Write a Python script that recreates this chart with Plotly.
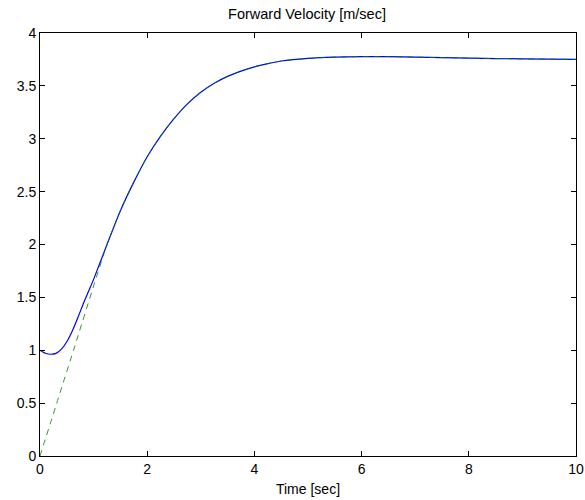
import plotly.graph_objects as go

# Blue (solid) curve: actual forward velocity
t_blue = [0, 0.1, 0.2, 0.3, 0.4, 0.5, 0.6, 0.7, 0.8, 0.9, 1.0, 1.25, 1.5, 1.75, 2.0,
          2.25, 2.5, 2.75, 3.0, 3.25, 3.5, 3.75, 4.0, 4.25, 4.5, 5.0, 5.5, 6.0,
          6.5, 7.0, 8.0, 9.0, 10.0]
v_blue = [1.00, 0.972, 0.962, 0.970, 1.01, 1.08, 1.18, 1.30, 1.43, 1.55, 1.67, 2.00,
          2.32, 2.59, 2.83, 3.025, 3.19, 3.33, 3.44, 3.525, 3.59, 3.64, 3.68, 3.71,
          3.735, 3.76, 3.772, 3.777, 3.776, 3.772, 3.762, 3.755, 3.75]

# Green (dashed) curve: reference velocity
t_green = [0, 0.625, 1.25, 1.5, 1.75, 2.0, 2.25, 2.5, 2.75, 3.0, 3.25, 3.5, 3.75,
           4.0, 4.25, 4.5, 5.0, 5.5, 6.0, 6.5, 7.0, 8.0, 9.0, 10.0]
v_green = [0.0, 1.00, 2.00, 2.32, 2.59, 2.83, 3.025, 3.19, 3.33, 3.44, 3.525, 3.59,
           3.64, 3.68, 3.71, 3.735, 3.76, 3.772, 3.777, 3.776, 3.772, 3.762, 3.755,
           3.75]

x_ticks = [0, 2, 4, 6, 8, 10]
y_ticks = [0, 0.5, 1, 1.5, 2, 2.5, 3, 3.5, 4]
y_tick_text = ["0", "0.5", "1", "1.5", "2", "2.5", "3", "3.5", "4"]

fig = go.Figure()
fig.add_trace(go.Scatter(x=t_blue, y=v_blue, mode="lines",
                         line=dict(color="#0000ff", width=1.2, shape="spline", smoothing=0.6),
                         showlegend=False))
fig.add_trace(go.Scatter(x=t_green, y=v_green, mode="lines",
                         line=dict(color="#008000", width=1, dash="6px,5px",
                                   shape="spline", smoothing=0.6),
                         opacity=0.8, showlegend=False))

font = dict(family="Liberation Sans, Arial, sans-serif", size=14, color="black")
fig.update_layout(
    width=585, height=500,
    margin=dict(l=40, r=9, t=33, b=44, autoexpand=False),
    plot_bgcolor="white", paper_bgcolor="white",
    font=font,
    title=dict(text="Forward Velocity [m/sec]", x=307 / 585, xanchor="center",
               y=1 - 14 / 500, yanchor="middle", font=dict(size=14.5)),
)
fig.update_xaxes(range=[0, 10], tickvals=x_ticks, ticks="inside", ticklen=5,
                 tickcolor="black", showline=True, linecolor="black", linewidth=1,
                 mirror="ticks", showgrid=False, zeroline=False, automargin=False,
                 title=dict(text="Time [sec]", standoff=8, font=dict(size=14)))
fig.update_yaxes(range=[0, 4], tickvals=y_ticks, ticktext=y_tick_text, ticks="inside",
                 ticklen=5, tickcolor="black", showline=True, linecolor="black",
                 linewidth=1, mirror="ticks", showgrid=False, zeroline=False,
                 automargin=False)

fig.write_html("out.html")
